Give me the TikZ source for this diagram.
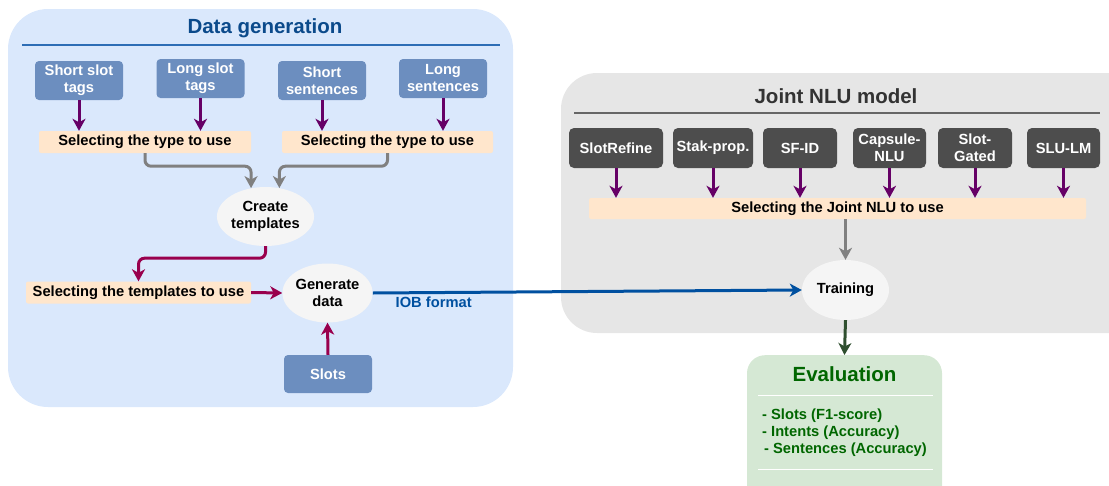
\documentclass[tikz,border=0pt]{standalone}
\usepackage{fontspec}
\setmainfont{Liberation Sans}
\usetikzlibrary{shapes.geometric,arrows.meta,calc}

\definecolor{genbg}{HTML}{DAE8FC}
\definecolor{gentitle}{HTML}{0B4A8B}
\definecolor{genrule}{HTML}{2D6DB5}
\definecolor{srcblue}{HTML}{6C8EBF}
\definecolor{selorange}{HTML}{FFE6CC}
\definecolor{procfill}{HTML}{F5F5F5}
\definecolor{purplearrow}{HTML}{660066}
\definecolor{crimsonarrow}{HTML}{99004D}
\definecolor{grayarrow}{HTML}{808080}
\definecolor{ioblue}{HTML}{0050A0}
\definecolor{nlubg}{HTML}{E6E6E6}
\definecolor{nlutitle}{HTML}{333333}
\definecolor{nlurule}{HTML}{666666}
\definecolor{modelgray}{HTML}{4D4D4D}
\definecolor{evalbg}{HTML}{D5E8D4}
\definecolor{evaltext}{HTML}{006600}
\definecolor{evalarrow}{HTML}{2F4F2F}

\begin{document}
\begin{tikzpicture}[x=1pt,y=-1pt,
  lbl/.style={font=\fontsize{14.7}{17}\selectfont\bfseries},
  bigtitle/.style={font=\fontsize{20.5}{24}\selectfont\bfseries, inner sep=0pt},
  srcbox/.style={lbl, rectangle, rounded corners=4pt, fill=srcblue, text=white,
    align=center, minimum width=88pt, minimum height=39pt, inner sep=0pt},
  modelbox/.style={lbl, rectangle, rounded corners=5pt, fill=modelgray, text=white,
    align=center, minimum height=40pt, inner sep=0pt},
  selstrip/.style={lbl, rectangle, rounded corners=2pt, fill=selorange,
    minimum height=22pt, inner sep=0pt},
  procnode/.style={lbl, ellipse, fill=procfill, align=center,
    minimum width=87pt, minimum height=59pt, inner sep=0pt},
  arrowbase/.style={line width=3pt, -{Stealth[length=12pt,width=13pt,inset=3.5pt]}},
  purplearr/.style={arrowbase, draw=purplearrow},
  crimsonarr/.style={arrowbase, draw=crimsonarrow, rounded corners=6pt},
  grayarr/.style={arrowbase, draw=grayarrow, rounded corners=6pt},
  bluearr/.style={arrowbase, line width=3pt, draw=ioblue},
  greenarr/.style={arrowbase, draw=evalarrow}
]
\useasboundingbox (0,0) rectangle (1109,485);
\clip (0,0) rectangle (1109,485);

% ---------- containers ----------
\fill[genbg, rounded corners=40pt] (8,9) rectangle (513,407);
\fill[nlubg, rounded corners=36pt] (561,73) rectangle (1145,333);

% ---------- data generation ----------
\node[bigtitle, text=gentitle] (gentitle) at (265,28) {Data generation};
\draw[genrule, line width=1.4pt] (22,45) -- (500,45);

\node[srcbox] (sst) at (79,80.5)   {Short slot\\tags};
\node[srcbox] (lst) at (200.5,78.5) {Long slot\\tags};
\node[srcbox] (ssn) at (322,80.5)  {Short\\sentences};
\node[srcbox] (lsn) at (443,78.5)  {Long\\sentences};

\node[selstrip, minimum width=212pt] (selA) at (145,142)   {Selecting the type to use};
\node[selstrip, minimum width=211pt] (selB) at (387.5,142) {Selecting the type to use};

\draw[purplearr] (sst.south) -- (sst.south |- selA.north);
\draw[purplearr] (lst.south) -- (lst.south |- selA.north);
\draw[purplearr] (ssn.south) -- (ssn.south |- selB.north);
\draw[purplearr] (lsn.south) -- (lsn.south |- selB.north);

\node[procnode] (ct) at (265.5,216.5) {Create\\templates};

\draw[grayarr] (selA.south) -- ++(0,13) -| (ct.117);
\draw[grayarr] (selB.south) -- ++(0,13) -| (ct.64);

\node[selstrip, minimum width=225pt] (selT) at (138.5,292.5) {Selecting the templates to use};
\node[procnode] (gd) at (327.5,293) {Generate\\data};
\node[srcbox, minimum height=38pt] (slots) at (328,374) {Slots};

\draw[crimsonarr] (ct.south) -- ++(0,12) -| (selT.north);
\draw[crimsonarr] (selT.east) -- (gd.west);
\draw[crimsonarr] (slots.north) -- (gd.south);

% ---------- joint NLU model ----------
\node[bigtitle, text=nlutitle] (nlutitle) at (836,96) {Joint NLU model};
\draw[nlurule, line width=1.4pt] (574,113) -- (1100,113);

\node[modelbox, minimum width=94pt] (m1) at (616,148)    {SlotRefine};
\node[modelbox, minimum width=80pt] (m2) at (713,148)    {Stak-prop.};
\node[modelbox, minimum width=74pt] (m3) at (800,148)    {SF-ID};
\node[modelbox, minimum width=73pt] (m4) at (889.5,148)  {Capsule-\\NLU};
\node[modelbox, minimum width=74pt] (m5) at (975,148)    {Slot-\\Gated};
\node[modelbox, minimum width=73pt] (m6) at (1063.5,148) {SLU-LM};

\node[selstrip, minimum width=497pt, minimum height=21pt] (selJ) at (837.5,208.5) {Selecting the Joint NLU to use};

\foreach \m in {m1,m2,m3,m4,m5,m6}
  \draw[purplearr] (\m.south) -- (\m.south |- selJ.north);

\node[procnode, minimum height=60pt] (train) at (845.5,290) {Training};
\draw[grayarr] (train.north |- selJ.south) -- (train.north);

% ---------- data flow ----------
\draw[bluearr] (gd.east) -- (train.west)
  node[pos=0.142, yshift=-9.5pt, lbl, text=ioblue, inner sep=0pt] (iob) {IOB format};

% ---------- evaluation ----------
\node[rectangle, rounded corners=18pt, fill=evalbg, minimum width=195pt,
  minimum height=150pt, anchor=north, inner sep=0pt] (eval) at (844.5,355) {};
\draw[greenarr] (train.south) -- (eval.north);
\node[bigtitle, text=evaltext] (evaltitle) at (844.5,374) {Evaluation};
\draw[white, line width=1pt] (758,395) -- (933,395);
\node[lbl, text=evaltext, align=left, anchor=north west, inner sep=0pt] (evalitems) at (762,409)
  {- Slots (F1-score)\\- Intents (Accuracy)\\\hspace*{2pt}- Sentences (Accuracy)};
\draw[white, line width=1pt] (758,469) -- (933,469);
\end{tikzpicture}
\end{document}
